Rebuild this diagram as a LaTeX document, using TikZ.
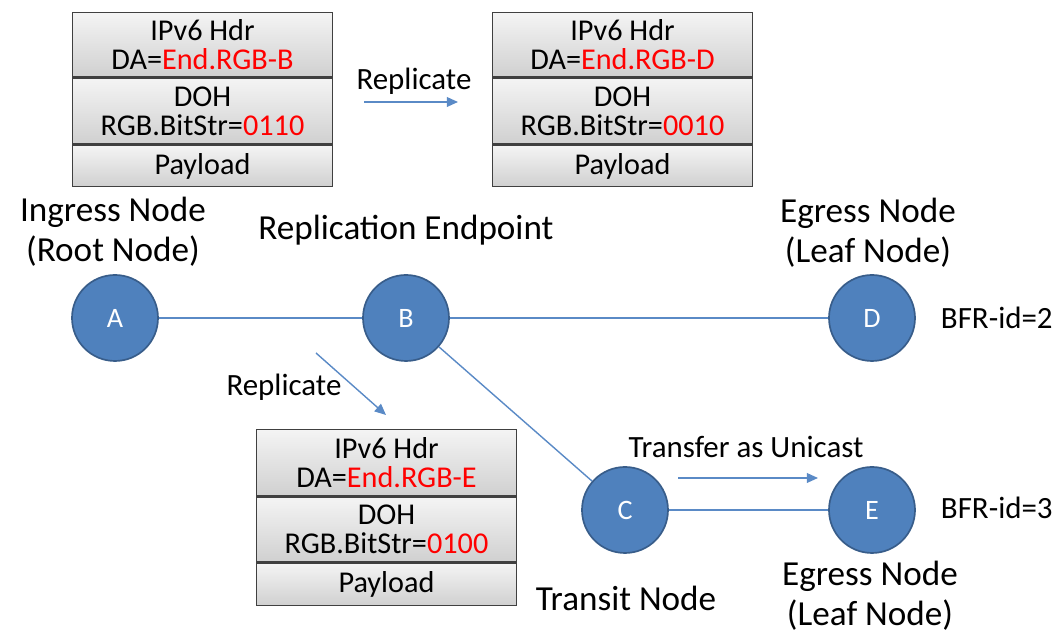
\documentclass[tikz,border=0pt]{standalone}
\usepackage{fontspec}
\setmainfont{Carlito}
\usepackage{tikz}
\usetikzlibrary{arrows.meta,positioning}
\definecolor{bleuNoeud}{RGB}{79,129,189}
\definecolor{bordNoeud}{RGB}{56,93,138}
\definecolor{bleuLien}{RGB}{90,138,198}
\definecolor{grisHaut}{RGB}{244,244,244}
\definecolor{grisBas}{RGB}{208,208,208}
\definecolor{rougeAdr}{RGB}{255,0,0}

\begin{document}
\begin{tikzpicture}[font=\fontsize{22}{24}\selectfont,
  routeur/.style={circle, fill=bleuNoeud, draw=bordNoeud, line width=1.2pt,
                  minimum size=2.15cm, inner sep=0pt, text=white,
                  font=\fontsize{20}{22}\selectfont},
  champ/.style={rectangle, draw=black!75, line width=1pt, top color=grisHaut,
                bottom color=grisBas, minimum width=6.5cm, inner sep=0pt,
                align=center, font=\fontsize{21.5}{20.5}\selectfont},
  lien/.style={bleuLien, line width=1pt},
  fleche/.style={-{Triangle[width=7pt,length=8pt]}, bleuLien, line width=1pt},
  legende/.style={align=center, font=\fontsize{25}{28.5}\selectfont}]

\useasboundingbox (0,0) rectangle (26.4,15.825);

% Noeuds du réseau
\node[routeur] (A) at (2.875,7.875) {A};
\node[routeur] (B) at (10.15,7.875) {B};
\node[routeur] (D) at (21.8,7.875) {D};
\node[routeur] (C) at (15.625,3.075) {C};
\node[routeur] (E) at (21.8,3.075) {E};

% Liens
\draw[lien] (A) -- (B);
\draw[lien] (B) -- (D);
\draw[lien] (B) -- (C);
\draw[lien] (C) -- (E);

% Rôles des noeuds
\node[legende] (ingress) at (2.825,10.025) {Ingress Node\\(Root Node)};
\node[legende] (replic) at (10.15,10.075) {Replication Endpoint};
\node[legende] (egressD) at (21.7,10.0) {Egress Node\\(Leaf Node)};
\node[legende] (transit) at (15.65,0.875) {Transit Node};
\node[legende] (egressE) at (21.75,0.925) {Egress Node\\(Leaf Node)};
\node[anchor=west] (idD) at (23.4,7.875) {BFR-id=2};
\node[anchor=west] (idE) at (23.4,3.125) {BFR-id=3};

% Paquet émis par A
\node[champ, minimum height=1.6cm, anchor=north] (hdrB) at (5.0625,15.525)
  {IPv6 Hdr\\DA=\textcolor{rougeAdr}{End.RGB-B}};
\node[champ, minimum height=1.65cm, below=0pt of hdrB] (dohB)
  {DOH\\RGB.BitStr=\textcolor{rougeAdr}{0110}};
\node[champ, minimum height=1.025cm, below=0pt of dohB] (payB) {Payload};

% Paquet répliqué vers D
\node[champ, minimum height=1.6cm, anchor=north] (hdrD) at (15.5625,15.525)
  {IPv6 Hdr\\DA=\textcolor{rougeAdr}{End.RGB-D}};
\node[champ, minimum height=1.65cm, below=0pt of hdrD] (dohD)
  {DOH\\RGB.BitStr=\textcolor{rougeAdr}{0010}};
\node[champ, minimum height=1.025cm, below=0pt of dohD] (payD) {Payload};

% Paquet répliqué vers E
\node[champ, minimum height=1.65cm, anchor=north] (hdrE) at (9.6625,5.1)
  {IPv6 Hdr\\DA=\textcolor{rougeAdr}{End.RGB-E}};
\node[champ, minimum height=1.625cm, below=0pt of hdrE] (dohE)
  {DOH\\RGB.BitStr=\textcolor{rougeAdr}{0100}};
\node[champ, minimum height=1.05cm, below=0pt of dohE] (payE) {Payload};

% Flèches de réplication
\coordinate (rep1a) at (9.1,13.275);
\coordinate (rep1b) at (11.45,13.275);
\draw[fleche] (rep1a) -- (rep1b);
\node (rep1) at (10.35,13.8) {Replicate};

\coordinate (rep2a) at (7.9,7.0);
\coordinate (rep2b) at (9.65,5.45);
\draw[fleche] (rep2a) -- (rep2b);
\node (rep2) at (7.1,6.15) {Replicate};

\coordinate (uniA) at (16.95,3.875);
\coordinate (uniB) at (20.45,3.875);
\draw[fleche] (uniA) -- (uniB);
\node (uni) at (18.65,4.65) {Transfer as Unicast};

\end{tikzpicture}
\end{document}
